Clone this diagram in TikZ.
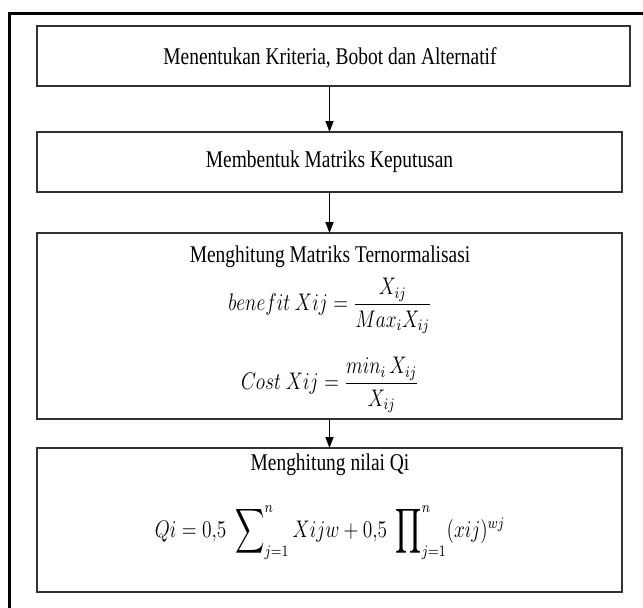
\documentclass[tikz,border=0pt]{standalone}
\usepackage{fontspec}
\setmainfont{Liberation Serif}
\usepackage{amsmath}
\usepackage{graphicx}
\usetikzlibrary{arrows.meta}
\newcommand{\hsq}[1]{\scalebox{0.81}[1]{#1}}
\newcommand{\bigop}[1]{\mathop{\vcenter{\hbox{\scalebox{1.05}[1.3]{$\displaystyle#1$}}}}\nolimits}
\begin{document}
\begin{tikzpicture}[x=0.5pt,y=-0.5pt,
  box/.style={draw=black!80, line width=0.9pt, inner sep=0pt, outer sep=0pt, fill=white},
  arr/.style={line width=0.7pt, -{Triangle[width=4pt,length=5.5pt]}},
  lbl/.style={inner sep=0pt, outer sep=0pt, font=\fontsize{12}{14}\selectfont},
  frame/.style={line width=1.5pt, black}]
\useasboundingbox (0,0) rectangle (643,607);
% outer frame (only top and left edges fall inside the picture)
\coordinate (fa) at (9,620);
\coordinate (fb) at (9,13);
\coordinate (fc) at (660,13);
\draw[frame] (fa) -- (fb) -- (fc);
% boxes
\node[box, minimum width=296.5pt, minimum height=30pt] (b1) at (333.5,56) {};
\node[box, minimum width=292.5pt, minimum height=30pt] (b2) at (329.5,162) {};
\node[box, minimum width=292.5pt, minimum height=93pt] (b3) at (329.5,326) {};
\node[box, minimum width=292.5pt, minimum height=72pt] (b4) at (329.5,520) {};
% texts
\node[lbl] (t1) at (330,58) {\hsq{Menentukan Kriteria, Bobot dan Alternatif}};
\node[lbl] (t2) at (329.5,162) {\hsq{Membentuk Matriks Keputusan}};
\node[lbl] (t3) at (330,257) {\hsq{Menghitung Matriks Ternormalisasi}};
\node[lbl] (f1) at (330,306) {\hsq{$benefit\ Xij = \dfrac{X_{ij}}{Max_i X_{ij}}$}};
\node[lbl] (f2) at (330,385) {\hsq{$Cost\ Xij = \dfrac{min_i\, X_{ij}}{X_{ij}}$}};
\node[lbl] (t4) at (330,465) {\hsq{Menghitung nilai Qi}};
\node[lbl] (f3) at (330,522) {\raisebox{0pt}[22pt][7pt]{\hsq{$Qi = 0{,}5\; \bigop{\sum}_{j=1}^{n} Xijw + 0{,}5\; \bigop{\prod}_{j=1}^{n} (xij)^{wj}$}}};
% connectors
\draw[arr] (b1.south -| b2.north) -- (b2.north);
\draw[arr] (b2.south) -- (b3.north);
\draw[arr] (b3.south) -- (b4.north);
\end{tikzpicture}
\end{document}
